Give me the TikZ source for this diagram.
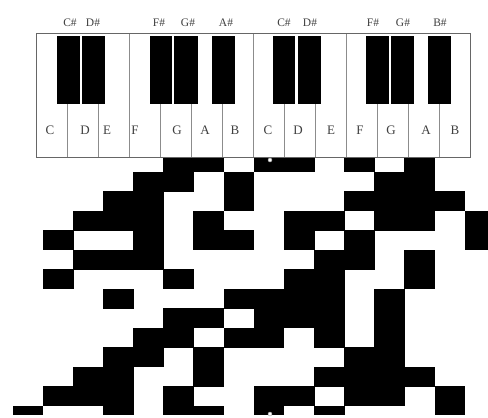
\documentclass[tikz,border=0pt]{standalone}
\usepackage{fontspec}
\setmainfont{Liberation Serif}
\begin{document}
\begin{tikzpicture}[x=1pt,y=-1pt,
  cellfill/.style={fill=black},
  keyline/.style={draw=black!45,line width=0.8pt},
  blackkey/.style={fill=black},
  wlabel/.style={font=\fontsize{13}{13}\selectfont,text=black!75,inner sep=0pt},
  blabel/.style={font=\fontsize{11.5}{12}\selectfont,text=black!75,inner sep=0pt},
  handle/.style={circle,fill=white,draw=black!40,line width=0.4pt,inner sep=0pt,minimum size=4pt}]
\useasboundingbox (0,0) rectangle (488,418);
\fill[white] (0,0) rectangle (488,418);
% pixel grid
\begin{scope}
\clip (0,157) rectangle (488,414);
\foreach \r/\cols in {0/{5,6,8,9,11,13},
                      1/{4,5,7,12,13},
                      2/{3,4,7,11,12,13,14},
                      3/{2,3,4,6,9,10,12,13,15},
                      4/{1,4,6,7,9,11,15},
                      5/{2,3,4,10,11,13},
                      6/{1,5,9,10,13},
                      7/{3,7,8,9,10,12},
                      8/{5,6,8,9,10,12},
                      9/{4,5,7,8,10,12},
                      10/{3,4,6,11,12},
                      11/{2,3,6,10,11,12,13},
                      12/{1,2,3,5,8,9,11,12,14},
                      13/{0,3,5,6,8,10,14}}
  \foreach \c in \cols
    \fill[cellfill] ({13+30.13*\c-0.3},{152.5+19.5*\r-0.3}) rectangle ++(30.73,20.1);
\end{scope}
% keyboard
\fill[white] (36,33) rectangle (470,157);
\foreach \k in {1,2,4,5,6,8,9,11,12,13}
  \draw[keyline] ({36+31*\k},104) -- ({36+31*\k},157);
\foreach \k in {3,7,10}
  \draw[keyline] ({36+31*\k},33) -- ({36+31*\k},157);
\foreach \a/\b in {57/80,82/105,150/172,174/198,212/235,273/295,298/321,366/389,391/414,428/451}
  \fill[blackkey] (\a,36) rectangle (\b,104);
\draw[draw=black!60,line width=1pt] (36,33) rectangle (470,157);
% white key labels
\foreach \x/\t [count=\i] in {50/C,85/D,107/E,135/F,177/G,205/A,235/B,268/C,298/D,331/E,360/F,391/G,426/A,455/B}
  \node[wlabel] (w\i) at (\x,130) {\t};
% black key labels
\foreach \x/\t [count=\i] in {70/C,93/D,159/F,188/G,226/A,284/C,310/D,373/F,403/G,440/B}
  \node[blabel] (b\i) at (\x,23) {\t\#};
% small handles
\node[handle] (h1) at (270,160) {};
\node[handle] (h2) at (270,414) {};
\end{tikzpicture}
\end{document}
